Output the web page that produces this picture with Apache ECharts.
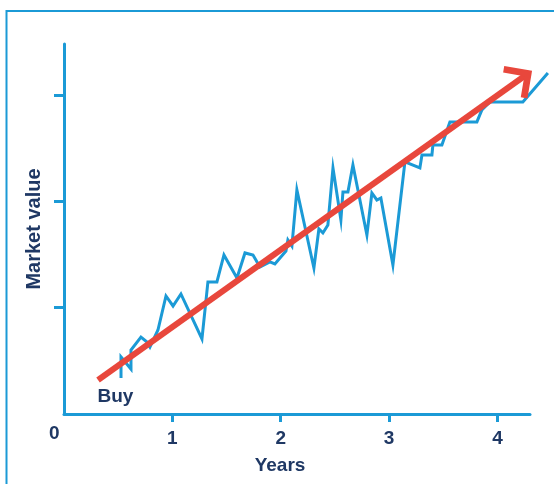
<!DOCTYPE html>
<html><head><meta charset="utf-8">
<script src="https://cdn.jsdelivr.net/npm/echarts@6/dist/echarts.min.js"></script>
<style>html,body{margin:0;padding:0;background:#fff}#c{width:554px;height:484px}</style>
</head><body><div id="c"></div>
<script>
// ---- data ----
const xTickValues = [1, 2, 3, 4];
const yTickValues = [1, 2, 3];
const originLabel = '0';
const xAxisName = 'Years';
const yAxisName = 'Market value';
const priceX = [0.526,0.526,0.618,0.618,0.710,0.766,0.793,0.867,0.941,1.006,1.079,1.273,1.328,1.411,1.476,1.596,1.670,1.744,1.808,1.900,1.946,2.048,2.066,2.103,2.149,2.306,2.352,2.389,2.435,2.482,2.555,2.574,2.620,2.666,2.795,2.841,2.887,2.924,3.035,3.146,3.284,3.303,3.395,3.404,3.487,3.561,3.810,3.856,3.930,4.234,4.465];
const priceY = [0.339,0.536,0.423,0.602,0.724,0.677,0.630,0.790,1.110,1.016,1.129,0.706,1.242,1.242,1.496,1.279,1.515,1.496,1.383,1.430,1.411,1.533,1.637,1.580,2.107,1.373,1.740,1.703,1.778,2.314,1.825,2.088,2.088,2.342,1.684,2.079,2.013,2.032,1.402,2.371,2.314,2.437,2.437,2.531,2.531,2.747,2.747,2.860,2.935,2.935,3.208];
const trendStart = [0.314, 0.320];
const trendEnd = [4.295, 3.212];
const startLabel = 'Buy';
const xMax = 4.3;          // end of the drawn x axis
const xMaxPrice = 4.47;    // the price line runs a little past the axis end
const yMax = 3.48;

// ---- styles ----
const BLUE = '#1b9ad6';
const RED = '#e8473c';
const NAVY = '#1f3864';
const FONT = 'Liberation Sans';

const chart = echarts.init(document.getElementById('c'), null, {renderer: 'canvas'});
const arrowHead = 'path://M50,0L50,0ZM50,46L100,96L88,108L50,70L12,108L0,96Z';

const gridLeft = 64, gridRight = 24, gridTop = 44, gridBottom = 70;
const plotW = 554 - gridLeft - gridRight;
// second grid shares the same pixel scale but reaches further right
const grid2Right = 554 - gridLeft - plotW * xMaxPrice / xMax;

chart.setOption({
  animation: false,
  backgroundColor: '#ffffff',
  grid: [
    {left: gridLeft, right: gridRight, top: gridTop, bottom: gridBottom},
    {left: gridLeft, right: grid2Right, top: gridTop, bottom: gridBottom}
  ],
  xAxis: [{
    type: 'value', min: 0, max: xMax, gridIndex: 0,
    name: xAxisName, nameLocation: 'middle', nameGap: 42,
    nameTextStyle: {color: NAVY, fontFamily: FONT, fontWeight: 'bold', fontSize: 19, padding: [0, 34, 0, 0]},
    axisLine: {show: true, lineStyle: {color: BLUE, width: 3}},
    axisTick: {show: true, inside: false, length: 8, lineStyle: {color: BLUE, width: 3}, customValues: xTickValues},
    axisLabel: {show: true, customValues: xTickValues, margin: 15, color: NAVY, fontFamily: FONT, fontWeight: 'bold', fontSize: 19},
    splitLine: {show: false}
  }, {
    type: 'value', min: 0, max: xMaxPrice, gridIndex: 1, show: false
  }],
  yAxis: [{
    type: 'value', min: 0, max: yMax, gridIndex: 0,
    name: yAxisName, nameLocation: 'middle', nameGap: 20, nameRotate: 90,
    nameTextStyle: {color: NAVY, fontFamily: FONT, fontWeight: 'bold', fontSize: 20},
    axisLine: {show: true, lineStyle: {color: BLUE, width: 3}},
    axisTick: {show: true, inside: false, length: 10, lineStyle: {color: BLUE, width: 3}, customValues: yTickValues},
    axisLabel: {show: false},
    splitLine: {show: false}
  }, {
    type: 'value', min: 0, max: yMax, gridIndex: 1, show: false
  }],
  graphic: [
    {type: 'polyline', silent: true, z: 0,
     shape: {points: [[6.5, 484], [6.5, 11], [554, 11]]},
     style: {stroke: BLUE, lineWidth: 2, fill: null}},
    {type: 'text', silent: true, left: 49, top: 424,
     style: {text: originLabel, fill: NAVY, font: 'bold 19px "Liberation Sans"'}}
  ],
  series: [
    {
      type: 'line', xAxisIndex: 1, yAxisIndex: 1, z: 2, silent: true, clip: false, showSymbol: false, symbol: 'none',
      data: priceX.map((x, i) => [x, priceY[i]]),
      lineStyle: {color: BLUE, width: 3, join: 'miter'}
    },
    {
      type: 'lines', coordinateSystem: 'cartesian2d', xAxisIndex: 0, yAxisIndex: 0, z: 3, silent: true, clip: false,
      symbol: ['none', arrowHead], symbolSize: [0, [40, 43]],
      lineStyle: {color: RED, width: 6, opacity: 1, curveness: 0, cap: 'butt'},
      itemStyle: {color: RED},
      data: [{coords: [trendStart, trendEnd]}]
    },
    {
      type: 'scatter', xAxisIndex: 0, yAxisIndex: 0, z: 4, silent: true, symbolSize: 1,
      itemStyle: {color: 'rgba(0,0,0,0)', opacity: 1},
      data: [trendStart],
      label: {show: true, formatter: startLabel, position: [0, 8], align: 'left', verticalAlign: 'top', opacity: 1,
              color: NAVY, fontFamily: FONT, fontWeight: 'bold', fontSize: 19}
    }
  ]
});
</script></body></html>
